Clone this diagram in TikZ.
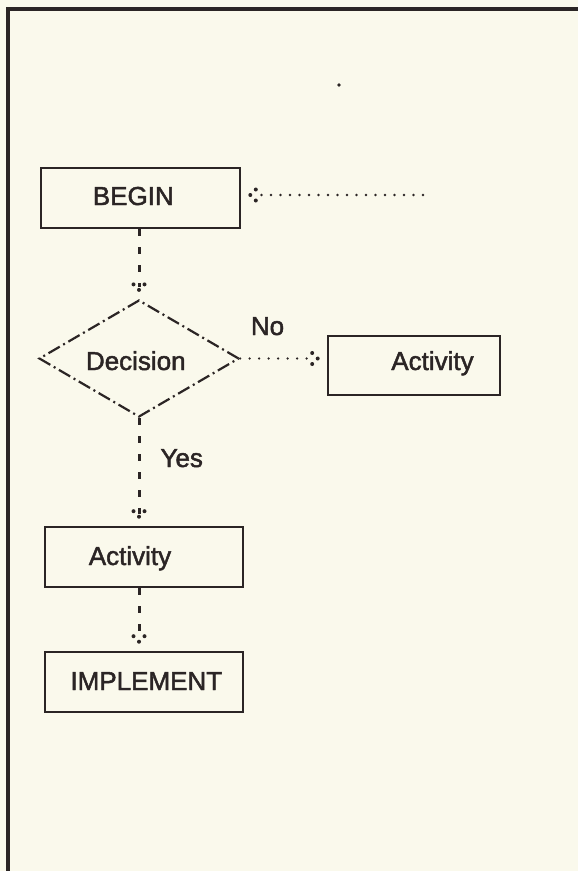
\documentclass[tikz,border=0pt]{standalone}
\usepackage{fontspec}
\setmainfont{Liberation Sans}[FakeBold=1.8]
\usetikzlibrary{shapes.geometric}

\definecolor{paper}{HTML}{FAF9EC}
\definecolor{ink}{HTML}{2B2525}

% arrow head made of three dots
\pgfdeclarearrow{
  name=DotHead,
  parameters={},
  setup code={
    \pgfarrowssettipend{2pt}
    \pgfarrowssetlineend{-3pt}
    \pgfarrowssetvisualbackend{-7pt}
    \pgfarrowssetbackend{-7pt}
    \pgfarrowsupperhullpoint{2pt}{2pt}
    \pgfarrowsupperhullpoint{-7pt}{7pt}
  },
  drawing code={
    \pgfpathcircle{\pgfpointorigin}{2pt}
    \pgfpathcircle{\pgfpoint{-5.5pt}{5.5pt}}{2pt}
    \pgfpathcircle{\pgfpoint{-5.5pt}{-5.5pt}}{2pt}
    \pgfusepathqfill
  }
}

\tikzset{
  box/.style={draw=ink, line width=2.6pt, rectangle, inner sep=0pt},
  decbox/.style={draw=ink, line width=2.2pt, diamond, inner sep=0pt,
    dash pattern=on 13pt off 4pt on 2pt off 4pt},
  lbl/.style={anchor=base, inner sep=0pt, text=ink,
    font=\fontsize{26}{30}\selectfont},
  dashconn/.style={draw=ink, line width=3pt, dash pattern=on 7pt off 11pt,
    -DotHead, shorten >=7pt},
  dotconn/.style={draw=ink, line width=2.6pt, line cap=round,
    dash pattern=on 0pt off 9.5pt, -DotHead, shorten >=7pt}
}

\begin{document}
\begin{tikzpicture}[x=1pt, y=-1pt]
  \useasboundingbox (0,0) rectangle (578,871);
  \fill[paper] (0,0) rectangle (578,871);

  % page frame
  \draw[ink, line width=4pt] (8,880) -- (8,9) -- (590,9);
  \fill[ink] (339,85) circle (1.8pt);

  % shapes
  \node[box, minimum width=199pt, minimum height=60pt] (begin) at (140.5,198) {};
  \node[decbox, minimum width=200pt, minimum height=117pt] (dec) at (139,358.5) {};
  \node[box, minimum width=172pt, minimum height=59pt] (act1) at (414,365.5) {};
  \node[box, minimum width=198pt, minimum height=60pt] (act2) at (144,557) {};
  \node[box, minimum width=198pt, minimum height=60pt] (impl) at (144,682) {};

  % texts
  \node[lbl] (tbegin) at (133.3,205) {BEGIN};
  \node[lbl] (tdec) at (135.8,370) {Decision};
  \node[lbl] (tact1) at (432.5,370) {Activity};
  \node[lbl] (tact2) at (130,565) {Activity};
  \node[lbl] (timpl) at (146.3,690) {IMPLEMENT};
  \node[lbl] (tno) at (267.5,335) {No};
  \node[lbl] (tyes) at (181.7,467) {Yes};

  % connectors
  \coordinate (loopin) at (423,195);
  \draw[dotconn] (loopin) -- (loopin -| begin.east);
  \draw[dashconn] (begin.south -| dec.north) -- (dec.north);
  \draw[dotconn] (dec.east) -- (dec.east -| act1.west);
  \draw[dashconn] (dec.south) -- (dec.south |- act2.north);
  \draw[dashconn] (act2.south -| dec.south) -- (impl.north -| dec.south);
\end{tikzpicture}
\end{document}
